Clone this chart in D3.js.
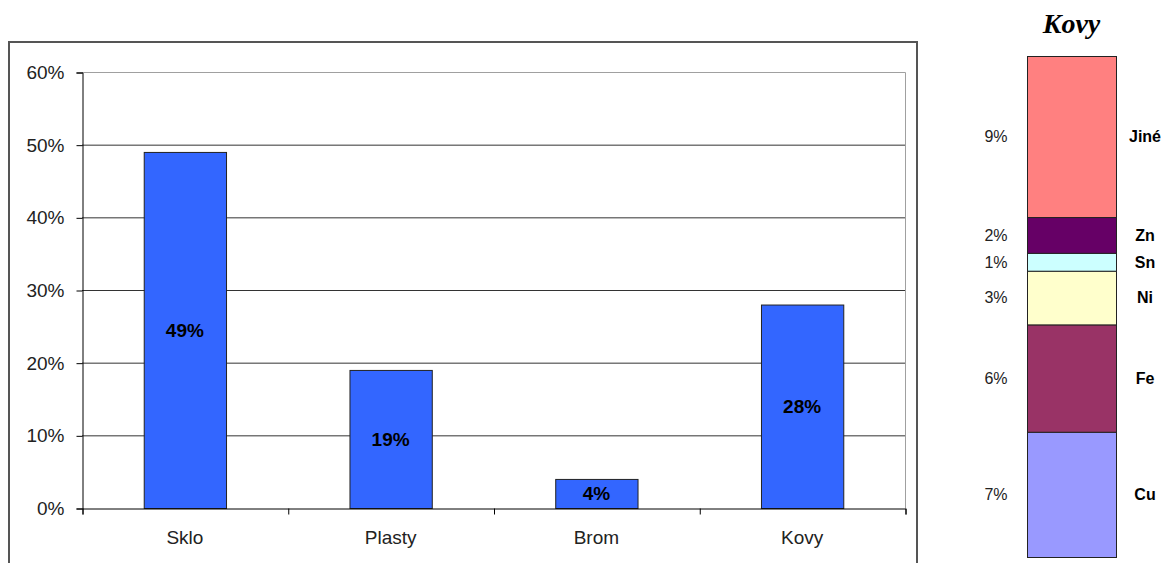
<!DOCTYPE html>
<html>
<head>
<meta charset="utf-8">
<script src="https://cdn.jsdelivr.net/npm/d3@7"></script>
<style>
  body { margin: 0; background: #fff; }
  svg { display: block; font-family: Arial, "Liberation Sans", sans-serif; }
</style>
</head>
<body>
<svg></svg>
<script>
// data
const categories = ["Sklo", "Plasty", "Brom", "Kovy"];
const shares = [49, 19, 4, 28];
const yTicks = [0, 10, 20, 30, 40, 50, 60];

// metals breakdown, bottom to top
const metals = ["Cu", "Fe", "Ni", "Sn", "Zn", "Jiné"];
const metalShares = [7, 6, 3, 1, 2, 9];
const metalColors = ["#9999ff", "#993366", "#ffffcc", "#ccffff", "#660066", "#ff8080"];

const svg = d3.select("svg").attr("width", 1175).attr("height", 563);

// outer chart frame (bottom runs off the page)
svg.append("rect")
  .attr("x", 9).attr("y", 42)
  .attr("width", 908).attr("height", 560)
  .attr("fill", "none")
  .attr("stroke", "#555")
  .attr("stroke-width", 2);

const plot = { left: 82, right: 905, top: 72, bottom: 508 };

const x = d3.scaleBand()
  .domain(categories)
  .range([plot.left, plot.right])
  .paddingInner(0.6)
  .paddingOuter(0.3);

const y = d3.scaleLinear()
  .domain([0, 60])
  .range([plot.bottom, plot.top]);

// gridlines
svg.append("g")
  .selectAll("line")
  .data(yTicks.filter((d) => d > 0 && d < 60))
  .join("line")
  .attr("x1", plot.left).attr("x2", plot.right)
  .attr("y1", (d) => y(d) + 0.5).attr("y2", (d) => y(d) + 0.5)
  .attr("stroke", "#333");

// plot area border top/right
svg.append("path")
  .attr("d", `M${plot.left},${plot.top + 0.5}H${plot.right + 0.5}V${plot.bottom}`)
  .attr("fill", "none")
  .attr("stroke", "#a0a0a0");

// y axis
const yAxis = svg.append("g")
  .attr("transform", `translate(${plot.left + 0.5},0.5)`)
  .call(d3.axisLeft(y).tickValues(yTicks).tickSize(6).tickFormat((d) => d + "%"));
yAxis.select(".domain").attr("stroke", "#000");
yAxis.selectAll(".tick line").attr("stroke", "#000");
yAxis.selectAll("text")
  .attr("font-size", 19)
  .attr("fill", "#222")
  .attr("x", -18)
  .attr("font-family", "Arial, 'Liberation Sans', sans-serif");

// bars
svg.append("g")
  .selectAll("rect")
  .data(shares)
  .join("rect")
  .attr("x", (d, i) => x(categories[i]) + 0.5)
  .attr("y", (d) => y(d) + 0.5)
  .attr("width", x.bandwidth())
  .attr("height", (d) => y(0) - y(d))
  .attr("fill", "#3366ff")
  .attr("stroke", "#222");

// x axis: boundary ticks + category labels
const bounds = d3.scaleLinear().domain([0, categories.length]).range([plot.left, plot.right]);
const xTicks = svg.append("g")
  .attr("transform", `translate(0.5,${plot.bottom + 0.5})`)
  .call(d3.axisBottom(bounds).ticks(categories.length).tickSize(6).tickFormat(""));
xTicks.select(".domain").attr("stroke", "#000");
xTicks.selectAll(".tick line").attr("stroke", "#000");

svg.append("g")
  .selectAll("text")
  .data(categories)
  .join("text")
  .attr("x", (d) => x(d) + x.bandwidth() / 2)
  .attr("y", 544)
  .attr("text-anchor", "middle")
  .attr("font-size", 19)
  .attr("fill", "#222")
  .text((d) => d);

// value labels
svg.append("g")
  .selectAll("text")
  .data(shares)
  .join("text")
  .attr("x", (d, i) => x(categories[i]) + x.bandwidth() / 2)
  .attr("y", (d) => (y(d) + y(0)) / 2)
  .attr("dy", "0.36em")
  .attr("text-anchor", "middle")
  .attr("font-size", 19)
  .attr("font-weight", "bold")
  .attr("fill", "#000")
  .text((d) => d + "%");

// ---- stacked metals column ----
const total = d3.sum(metalShares);
const ends = d3.cumsum(metalShares);
const y2 = d3.scaleLinear().domain([0, total]).range([557, 56]);
const colX = 1027, colW = 89;

svg.append("text")
  .attr("x", colX + colW / 2)
  .attr("y", 33)
  .attr("text-anchor", "middle")
  .attr("font-family", "'Liberation Serif', 'Times New Roman', serif")
  .attr("font-style", "italic")
  .attr("font-weight", "bold")
  .attr("font-size", 28)
  .attr("fill", "#000")
  .text("Kovy");

const seg = svg.append("g")
  .selectAll("g")
  .data(metals)
  .join("g");

seg.append("rect")
  .attr("x", colX + 0.5)
  .attr("y", (d, i) => y2(ends[i]) + 0.5)
  .attr("width", colW)
  .attr("height", (d, i) => y2(ends[i] - metalShares[i]) - y2(ends[i]))
  .attr("fill", (d, i) => metalColors[i])
  .attr("stroke", "#222");

seg.append("text")
  .attr("x", 996)
  .attr("y", (d, i) => y2(ends[i] - metalShares[i] / 2))
  .attr("dy", "0.36em")
  .attr("text-anchor", "middle")
  .attr("font-size", 16)
  .attr("fill", "#222")
  .text((d, i) => metalShares[i] + "%");

seg.append("text")
  .attr("x", 1145)
  .attr("y", (d, i) => y2(ends[i] - metalShares[i] / 2))
  .attr("dy", "0.36em")
  .attr("text-anchor", "middle")
  .attr("font-size", 16)
  .attr("font-weight", "bold")
  .attr("fill", "#000")
  .text((d) => d);
</script>
</body>
</html>
